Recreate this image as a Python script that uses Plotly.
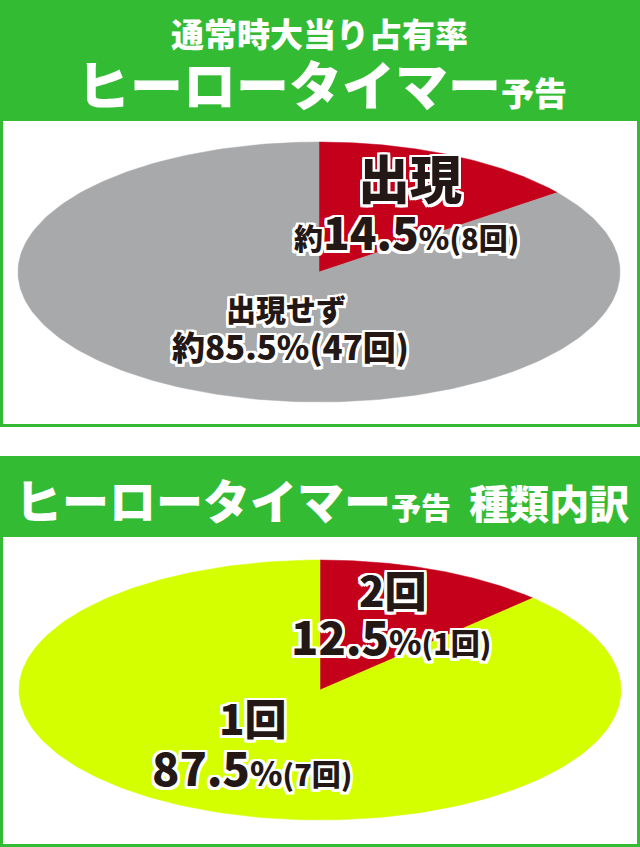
import numpy as np
import plotly.graph_objects as go

W, H = 640, 847

# data
occ_labels = ["出現", "出現せず"]
occ_counts = [8, 47]
occ_pct = [14.5, 85.5]
occ_colors = ["#c5001a", "#a8a9ab"]

kind_labels = ["2回", "1回"]
kind_counts = [1, 7]
kind_pct = [12.5, 87.5]
kind_colors = ["#c5001a", "#d4ff00"]

GREEN = "#33bb33"
INK = "#231815"
FONT = "Noto Sans CJK JP"

# white outline around the dark labels
o = 2.5
OUTLINE = ", ".join(
    f"{dx}px {dy}px 0 #fff"
    for dx, dy in [(o, 0), (-o, 0), (0, o), (0, -o), (o, o), (-o, -o), (o, -o), (-o, o),
                   (o, o / 2), (-o, o / 2), (o, -o / 2), (-o, -o / 2)]
)


def add_wedges(fig, counts, colors, cx, cy, a, b):
    # squashed pie, clockwise from 12 o'clock
    total = sum(counts)
    start = 0.0
    for n, col in zip(counts, colors):
        end = start + n / total
        t = np.linspace(start, end, 240) * 2 * np.pi
        xs = np.concatenate([[cx], cx + a * np.sin(t), [cx]])
        ys = np.concatenate([[cy], cy - b * np.cos(t), [cy]])
        fig.add_trace(go.Scatter(
            x=xs, y=ys, mode="lines", fill="toself", fillcolor=col,
            line=dict(color=col, width=0.5), hoverinfo="skip", showlegend=False,
        ))
        start = end


def label(fig, text, x, y, size):
    fig.add_annotation(
        x=x, y=y, text=text, showarrow=False, xanchor="center", yanchor="middle",
        font=dict(family=FONT, size=size, color=INK, weight=900, shadow=OUTLINE),
    )


def header(fig, text, x, y, size, xanchor="center"):
    fig.add_annotation(
        x=x, y=y, text=text, showarrow=False, xanchor=xanchor, yanchor="middle",
        font=dict(family=FONT, size=size, color="white", weight=900),
    )


fig = go.Figure()

add_wedges(fig, occ_counts, occ_colors, 319, 272, 301, 130)
add_wedges(fig, kind_counts, kind_colors, 320, 690, 301, 130)

# panel frames
for y0, y1, by0 in [(0, 427, 121), (456, 847, 537)]:
    fig.add_shape(type="rect", x0=0, x1=W, y0=y0, y1=y1, fillcolor=GREEN,
                  line=dict(width=0), layer="below")
    fig.add_shape(type="rect", x0=3, x1=W - 3, y0=by0, y1=y1 - 3, fillcolor="white",
                  line=dict(width=0), layer="below")

# headers
header(fig, "通常時大当り占有率", 319, 33, 33)
header(fig, "ヒーロータイマー<span style='font-size:33px'>予告</span>", 322, 83, 53)
header(fig, "ヒーロータイマー<span style='font-size:30px'>予告</span>"
            "<span style='font-size:40px'>  種類内訳</span>", 13, 498, 47, xanchor="left")

# labels from data
label(fig, occ_labels[0], 410, 176, 52)
label(fig, f"<span style='font-size:29px'>約</span>{occ_pct[0]}"
           f"<span style='font-size:31px'>%</span>"
           f"<span style='font-size:29px'>({occ_counts[0]}回)</span>", 406, 231, 44)
label(fig, occ_labels[1], 286, 308, 30)
label(fig, f"約{occ_pct[1]}%({occ_counts[1]}回)", 290, 346, 33)

label(fig, kind_labels[0], 393, 588, 42)
label(fig, f"{kind_pct[0]}<span style='font-size:33px'>%</span>"
           f"<span style='font-size:29px'>({kind_counts[0]}回)</span>", 391, 635, 45)
label(fig, kind_labels[1], 253, 716, 42)
label(fig, f"{kind_pct[1]}<span style='font-size:33px'>%</span>"
           f"<span style='font-size:29px'>({kind_counts[1]}回)</span>", 252, 766, 45)

fig.update_xaxes(range=[0, W], visible=False, fixedrange=True)
fig.update_yaxes(range=[H, 0], visible=False, fixedrange=True)
fig.update_layout(
    width=W, height=H, margin=dict(l=0, r=0, t=0, b=0),
    paper_bgcolor="white", plot_bgcolor="white", showlegend=False,
)

fig.write_html(
    "out.html",
    config={"displayModeBar": False},
    post_script="document.body.style.margin='0';document.body.style.overflow='hidden';",
)
